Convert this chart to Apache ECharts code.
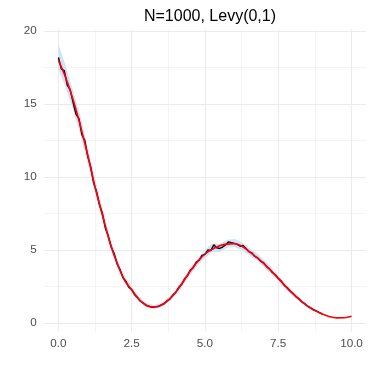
<!DOCTYPE html>
<html>
<head>
<meta charset="utf-8">
<script src="https://cdn.jsdelivr.net/npm/echarts@6/dist/echarts.min.js"></script>
<style>html,body{margin:0;padding:0;background:#fff}#c{width:374px;height:374px}</style>
</head>
<body>
<div id="c"></div>
<script>
const titleText = "N=1000, Levy(0,1)";
const xTickLabels = ["0.0", "2.5", "5.0", "7.5", "10.0"];
const yTickLabels = ["0", "5", "10", "15", "20"];

// true curve (red)
const redX = [0,0.25,0.5,0.75,1,1.25,1.5,1.75,2,2.25,2.5,2.75,3,3.25,3.5,3.75,4,4.25,4.5,4.75,5,5.25,5.5,5.75,6,6.25,6.5,6.75,7,7.25,7.5,7.75,8,8.25,8.5,8.75,9,9.25,9.5,9.75,10];
const redY = [18.0,16.8,15.3,13.5,11.5,9.3,7.4,5.55,4.1,2.95,2.25,1.6,1.2,1.08,1.2,1.55,2.1,2.8,3.55,4.2,4.72,5.05,5.28,5.4,5.42,5.27,4.9,4.5,4.08,3.58,3.05,2.5,2.0,1.55,1.15,0.85,0.6,0.42,0.34,0.35,0.45];

// estimate (black)
const blackX = [0,0.1,0.2,0.3,0.4,0.5,0.6,0.7,0.8,0.9,1,1.1,1.2,1.3,1.4,1.5,1.6,1.7,1.8,1.9,2,2.1,2.2,2.3,2.4,2.5,2.6,2.7,2.8,2.9,3,3.1,3.2,3.3,3.4,3.5,3.6,3.7,3.8,3.9,4,4.1,4.2,4.3,4.4,4.5,4.6,4.7,4.8,4.9,5,5.1,5.2,5.3,5.4,5.5,5.6,5.7,5.8,5.9,6,6.1,6.2,6.3,6.4,6.5,6.6,6.7,6.8,6.9,7,7.1,7.2,7.3,7.4,7.5,7.6,7.7,7.8,7.9,8,8.1,8.2,8.3,8.4,8.5,8.6,8.7,8.8,8.9,9];
const blackY = [18.2,17.4,17.3,16.3,16.0,15.1,14.3,14.0,12.9,12.5,11.4,10.7,9.6,9.0,8.1,7.5,6.5,5.95,5.2,4.75,4.05,3.65,3.1,2.85,2.45,2.28,1.93,1.72,1.48,1.35,1.19,1.13,1.07,1.09,1.11,1.22,1.3,1.5,1.63,1.9,2.08,2.42,2.62,3.0,3.22,3.62,3.78,4.15,4.3,4.62,4.7,5.0,4.95,5.35,5.15,5.1,5.2,5.35,5.55,5.5,5.45,5.38,5.25,5.3,5.1,4.88,4.8,4.55,4.45,4.22,4.12,3.85,3.7,3.45,3.3,3.04,2.86,2.58,2.42,2.18,2.02,1.8,1.65,1.44,1.32,1.14,1.03,0.89,0.81,0.7,0.61];

// confidence band (light blue)
const bandX = [0,0.25,0.5,0.75,1,1.25,1.5,1.75,2,2.25,2.5,2.75,3,3.25,3.5,3.75,4,4.25,4.5,4.75,5,5.25,5.5,5.75,6,6.25,6.5,6.75,7,7.25,7.5,7.75,8,8.25,8.5,8.75,9];
const bandLow = [17.4,16.1,14.6,12.9,10.9,8.9,7.0,5.2,3.8,2.75,2.05,1.45,1.05,0.95,1.05,1.4,1.9,2.55,3.3,3.95,4.45,4.85,4.85,5.15,5.2,5.0,4.65,4.3,3.85,3.35,2.85,2.3,1.85,1.4,1.02,0.74,0.5];
const bandHigh = [19.1,17.6,15.9,14.2,12.0,9.9,7.9,5.95,4.4,3.25,2.45,1.8,1.35,1.22,1.35,1.72,2.3,3.0,3.8,4.45,5.0,5.45,5.4,5.7,5.75,5.55,5.15,4.8,4.35,3.85,3.25,2.7,2.15,1.7,1.28,0.95,0.7];

const xMin = -0.5, xMax = 10.5, yMin = -0.61, yMax = 20.12;
const xTickVals = xTickLabels.map(Number);
const yTickVals = yTickLabels.map(Number);

const chart = echarts.init(document.getElementById('c'), null, {renderer: 'canvas'});
const gridCol = '#ebebeb';
const labelStyle = {color: '#4d4d4d', fontSize: 11.7, fontFamily: 'Liberation Sans, Arial, sans-serif'};

const pair = (xs, ys) => xs.map((x, i) => [x, ys[i]]);

function renderBand(params, api) {
  if (params.dataIndex !== 0) return null;
  const pts = [];
  for (let i = 0; i < bandX.length; i++) pts.push(api.coord([bandX[i], bandHigh[i]]));
  for (let i = bandX.length - 1; i >= 0; i--) pts.push(api.coord([bandX[i], bandLow[i]]));
  return {type: 'polygon', shape: {points: pts, smooth: 0}, style: {fill: '#cfe2fb'}, silent: true};
}

chart.setOption({
  animation: false,
  backgroundColor: '#fff',
  title: {
    text: titleText, left: 205, top: 4, textAlign: 'center',
    textStyle: {fontSize: 16, fontWeight: 'normal', color: '#000', fontFamily: 'Liberation Sans, Arial, sans-serif'}
  },
  grid: [
    {left: 43.8, right: 7.8, top: 29.5, bottom: 42.3},   // data panel
    {left: 58.45, right: 22.5, top: 29.5, bottom: 42.3}, // vertical grid + x labels
    {left: 43.8, right: 7.8, top: 31.25, bottom: 51.2}   // horizontal grid + y labels
  ],
  xAxis: [
    {gridIndex: 0, type: 'value', min: xMin, max: xMax, show: false},
    {gridIndex: 1, type: 'value', min: xTickVals[0], max: xTickVals[xTickVals.length-1], interval: 2.5,
     axisLine: {show: false}, axisTick: {show: false},
     axisLabel: Object.assign({margin: 6, formatter: v => v.toFixed(1)}, labelStyle),
     splitLine: {show: true, lineStyle: {color: gridCol, width: 1.1}},
     minorTick: {show: false, splitNumber: 2},
     minorSplitLine: {show: true, lineStyle: {color: gridCol, width: 0.55}}},
    {gridIndex: 2, type: 'value', min: 0, max: 1, show: false}
  ],
  yAxis: [
    {gridIndex: 0, type: 'value', min: yMin, max: yMax, show: false},
    {gridIndex: 1, type: 'value', min: 0, max: 1, show: false},
    {gridIndex: 2, type: 'value', min: yTickVals[0], max: yTickVals[yTickVals.length-1], interval: 5,
     axisLine: {show: false}, axisTick: {show: false},
     axisLabel: Object.assign({margin: 7}, labelStyle),
     splitLine: {show: true, lineStyle: {color: gridCol, width: 1.1}},
     minorTick: {show: false, splitNumber: 2},
     minorSplitLine: {show: true, lineStyle: {color: gridCol, width: 0.55}}}
  ],
  series: [
    {type: 'custom', xAxisIndex: 0, yAxisIndex: 0, renderItem: renderBand,
     data: pair(bandX, bandLow), silent: true, z: 1},
    {type: 'line', xAxisIndex: 0, yAxisIndex: 0, data: pair(blackX, blackY), z: 2,
     symbol: 'none', lineStyle: {color: '#000', width: 1.4}},
    {type: 'line', xAxisIndex: 0, yAxisIndex: 0, data: pair(redX, redY), smooth: 0.4, z: 3,
     symbol: 'none', lineStyle: {color: '#ff0000', width: 1.6}}
  ]
});
</script>
</body>
</html>
